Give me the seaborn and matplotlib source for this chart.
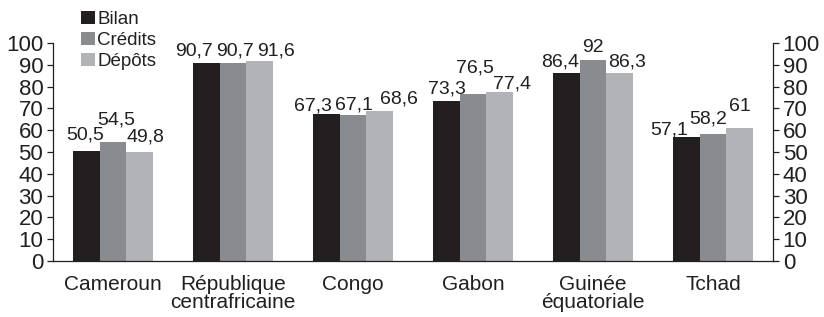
"""Bar chart: Bilan / Crédits / Dépôts by CEMAC country."""

import matplotlib

matplotlib.use("Agg")
import matplotlib.pyplot as plt
import pandas as pd
import seaborn as sns

COUNTRIES = [
    "Cameroun",
    "République\ncentrafricaine",
    "Congo",
    "Gabon",
    "Guinée\néquatoriale",
    "Tchad",
]
SERIES = ["Bilan", "Crédits", "Dépôts"]
BILAN = [50.5, 90.7, 67.3, 73.3, 86.4, 57.1]
CREDITS = [54.5, 90.7, 67.1, 76.5, 92.0, 58.2]
DEPOTS = [49.8, 91.6, 68.6, 77.4, 86.3, 61.0]
Y_TICKS = list(range(0, 101, 10))

COLORS = ["#231f20", "#8a8b8e", "#b2b3b6"]
INK = "#231f20"

# label nudges in pixels (dx, dy up), per series then per country
LABEL_NUDGE = [
    [(-1, 5), (-12, 2), (-14, -2), (0, 2), (-6, 0), (-17, -4)],
    [(3, 12), (2, 2), (1, -1), (2, 16), (0, 2), (-5, 5)],
    [(6, 5), (17, 0), (19, 2), (13, -2), (8, 0), (0, 11)],
]


def main():
    frame = pd.DataFrame(
        {
            "pays": COUNTRIES * 3,
            "serie": [s for s in SERIES for _ in COUNTRIES],
            "valeur": BILAN + CREDITS + DEPOTS,
        }
    )

    sns.set_theme(style="white")
    plt.rcParams["font.family"] = ["Liberation Sans", "DejaVu Sans"]
    plt.rcParams["text.color"] = INK

    fig = plt.figure(figsize=(8.24, 3.17), dpi=100)
    ax = fig.add_axes([53 / 824, 56 / 317, 720 / 824, 218 / 317])

    sns.barplot(
        data=frame,
        x="pays",
        y="valeur",
        hue="serie",
        order=COUNTRIES,
        hue_order=SERIES,
        palette=COLORS,
        saturation=1,
        width=0.6625,
        edgecolor="none",
        linewidth=0,
        ax=ax,
    )

    for s_idx, container in enumerate(ax.containers):
        for c_idx, bar in enumerate(container):
            value = bar.get_height()
            dx, dy = LABEL_NUDGE[s_idx][c_idx]
            ax.annotate(
                f"{value:g}".replace(".", ","),
                (bar.get_x() + bar.get_width() / 2, value),
                xytext=(dx, 6 + dy),
                textcoords="offset pixels",
                ha="center",
                va="baseline",
                fontsize=14,
                color=INK,
                annotation_clip=False,
            )

    ax.set_ylim(0, 100)
    ax.set_xlim(-0.5, len(COUNTRIES) - 0.5)
    ax.set_yticks(Y_TICKS)
    ax.set_xticks(range(len(COUNTRIES)))
    ax.set_xticklabels(COUNTRIES, fontsize=15, linespacing=0.92, color=INK)
    ax.set_xticks([i - 0.5 for i in range(len(COUNTRIES) + 1)], minor=True)
    ax.set_xlabel("")
    ax.set_ylabel("")

    ax.tick_params(axis="x", which="major", length=0, pad=10)
    ax.tick_params(axis="x", which="minor", length=4, width=0.9, color=INK, direction="out")
    ax.tick_params(
        axis="y",
        which="major",
        left=True,
        right=True,
        labelleft=True,
        labelright=True,
        length=4,
        width=0.9,
        color=INK,
        direction="out",
        labelsize=16,
        labelcolor=INK,
        pad=3,
    )

    for side in ["left", "right", "bottom"]:
        ax.spines[side].set_visible(True)
        ax.spines[side].set_color(INK)
        ax.spines[side].set_linewidth(0.9)
    ax.spines["top"].set_visible(False)
    ax.grid(False)

    handles, labels = ax.get_legend_handles_labels()
    ax.legend(
        handles,
        labels,
        loc="upper left",
        bbox_to_anchor=(81 / 824, 1 - 11 / 317),
        bbox_transform=fig.transFigure,
        frameon=False,
        fontsize=13.5,
        handlelength=0.72,
        handleheight=0.72,
        handletextpad=0.15,
        labelspacing=0.2,
        borderpad=0,
        borderaxespad=0,
    )

    fig.savefig("out.png", dpi=100)
    plt.close(fig)


if __name__ == "__main__":
    main()
